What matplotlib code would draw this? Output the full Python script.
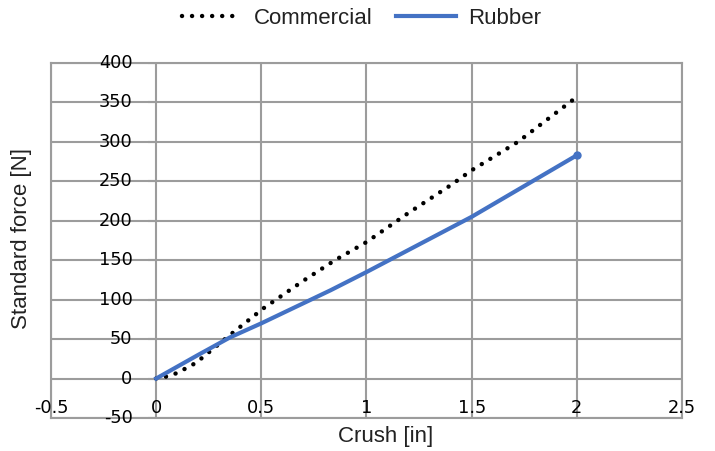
import numpy as np
import matplotlib
matplotlib.use('Agg')
import matplotlib.pyplot as plt

# data
comm_x = [0, 0.03, 0.1, 0.19, 0.35, 0.51, 0.7, 0.85, 1.0, 1.2, 1.4, 1.5, 1.72, 2.0]
comm_y = [0, 1, 7, 20, 55, 89, 124, 150, 173, 210, 245, 264, 300, 357]

rub_x = [0, 0.1, 0.2, 0.35, 0.5, 0.83, 1.0, 1.4, 1.5, 1.75, 2.0]
rub_y = [0, 15, 30, 52, 70, 112, 135, 191, 205, 244, 283]

x_ticks = [-0.5, 0, 0.5, 1, 1.5, 2, 2.5]
x_tick_labels = ['-0.5', '0', '0.5', '1', '1.5', '2', '2.5']
y_ticks = [-50, 0, 50, 100, 150, 200, 250, 300, 350, 400]

grid_col = '#9c9c9c'
blue = '#4472C4'
font = 'Liberation Sans'

fig = plt.figure(figsize=(7.15, 4.51), dpi=100)
ax = fig.add_axes([0.0713, 0.0732, 0.8825, 0.7871])

ax.set_xlim(-0.5, 2.5)
ax.set_ylim(-50, 400)
ax.set_xticks(x_ticks)
ax.set_yticks(y_ticks)
ax.grid(True, color=grid_col, linewidth=1.5)
ax.set_axisbelow(True)
ax.tick_params(length=0, labelbottom=False, labelleft=False)
for s in ax.spines.values():
    s.set_color(grid_col)
    s.set_linewidth(1.5)

# small tick stubs on the vertical axis at x=0
ax.hlines(y_ticks, -0.04, 0, color=grid_col, linewidth=1.5, zorder=1)

ax.plot(comm_x, comm_y, color='black', linewidth=3.2,
        linestyle=(0, (0.01, 2.25)), dash_capstyle='round',
        label='Commercial', zorder=3)
ax.plot(rub_x, rub_y, color=blue, linewidth=3, label='Rubber', zorder=4)
# end blob of the rubber series
ax.plot(rub_x[-1:], rub_y[-1:], 'o', color=blue, markersize=5, zorder=4)

# tick labels placed like the Excel chart
for xv, lab in zip(x_ticks, x_tick_labels):
    ax.text(xv, 0.028, lab, transform=ax.get_xaxis_transform(),
            ha='center', va='center', fontsize=12.8, family='DejaVu Sans')
for yv in y_ticks:
    ax.text(-0.112, yv, str(yv), ha='right', va='center',
            fontsize=12.8, family='DejaVu Sans')

ax.set_xlabel('Crush [in]', fontsize=16, family=font, color='#222222')
ax.xaxis.set_label_coords(0.531, -0.022)
ax.set_ylabel('Standard force [N]', fontsize=16, family=font, color='#222222')
ax.yaxis.set_label_coords(-0.030, 0.507)

leg = fig.legend(loc='center', bbox_to_anchor=(0.506, 0.96), ncol=2,
                 frameon=False, prop={'family': font, 'size': 16},
                 handlelength=2.7, handletextpad=0.55, columnspacing=1.05)
for t in leg.get_texts():
    t.set_color('#222222')

fig.savefig('out.png', dpi=100)
